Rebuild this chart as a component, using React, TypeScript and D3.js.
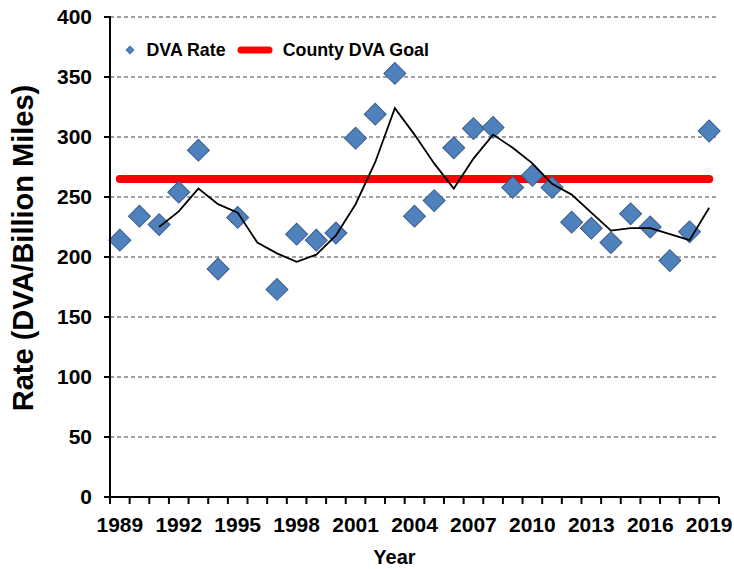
import * as d3 from 'd3'

const years = [
  1989, 1990, 1991, 1992, 1993, 1994, 1995, 1996, 1997, 1998, 1999,
  2000, 2001, 2002, 2003, 2004, 2005, 2006, 2007, 2008, 2009,
  2010, 2011, 2012, 2013, 2014, 2015, 2016, 2017, 2018, 2019,
]

// DVA rate per year (1996 has no point in the chart)
const dvaRate = [
  214, 234, 227, 254, 289, 190, 233, null, 173, 219, 214,
  220, 299, 319, 353, 234, 247, 291, 307, 308, 258,
  268, 258, 229, 224, 212, 236, 225, 197, 221, 305,
]

// 3-year moving average trendline
const trend = [
  null, null, 225, 238, 257, 244, 237, 212, 203, 196, 202,
  218, 244, 279, 324, 302, 278, 257, 282, 302, 291,
  278, 261, 252, 237, 222, 224, 224, 219, 214, 241,
]

const countyGoal = 265

const yTicks = [0, 50, 100, 150, 200, 250, 300, 350, 400]
const xLabelYears = [1989, 1992, 1995, 1998, 2001, 2004, 2007, 2010, 2013, 2016, 2019]

const FONT = '"Liberation Sans", Arial, sans-serif'

const App = () => {
  const W = 734
  const H = 569
  const left = 110
  const right = 719
  const top = 17
  const bottom = 497

  const x = d3.scaleBand<number>().domain(years).range([left, right]).padding(0)
  const cx = (yr: number) => (x(yr) ?? 0) + x.bandwidth() / 2
  const y = d3.scaleLinear().domain([0, 400]).range([bottom, top])

  const diamond = d3.symbol().type(d3.symbolSquare).size(240)()
  const legendDiamond = d3.symbol().type(d3.symbolSquare).size(34)()

  const trendLine = d3
    .line<number | null>()
    .defined((d) => d != null)
    .x((_, i) => cx(years[i]))
    .y((d) => y(d as number))(trend)

  const boundaries = years.map((yr) => x(yr) as number).concat([right])

  return (
    <svg
      width={W}
      height={H}
      style={{ position: 'absolute', left: 0, top: 0, background: '#fff' }}
      fontFamily={FONT}
      fontWeight="bold"
    >
      {/* gridlines */}
      {yTicks.filter((t) => t > 0).map((t) => (
        <line
          key={'g' + t}
          x1={left}
          x2={right}
          y1={y(t)}
          y2={y(t)}
          stroke="#404040"
          strokeWidth={1}
          strokeDasharray="4,3"
        />
      ))}

      {/* goal line */}
      <line
        x1={cx(years[0])}
        x2={cx(years[years.length - 1])}
        y1={y(countyGoal)}
        y2={y(countyGoal)}
        stroke="#ff0000"
        strokeWidth={8}
        strokeLinecap="round"
      />

      {/* points */}
      {dvaRate.map((v, i) =>
        v == null ? null : (
          <path
            key={'p' + i}
            d={diamond as string}
            transform={`translate(${cx(years[i])},${y(v)}) rotate(45)`}
            fill="#4F81BD"
            stroke="#385D8A"
            strokeWidth={1}
          />
        )
      )}

      {/* trendline */}
      <path d={trendLine as string} fill="none" stroke="#000" strokeWidth={1.8} />

      {/* axes */}
      <line x1={left} x2={left} y1={top - 1} y2={bottom + 1} stroke="#000" strokeWidth={2} />
      <line x1={left - 1} x2={right} y1={bottom} y2={bottom} stroke="#000" strokeWidth={2} />
      {yTicks.map((t) => (
        <g key={'yt' + t}>
          <line x1={left - 6} x2={left} y1={y(t)} y2={y(t)} stroke="#000" strokeWidth={2} />
          <text x={92} y={y(t)} dy="0.35em" textAnchor="end" fontSize={21} fill="#000">
            {t}
          </text>
        </g>
      ))}
      {boundaries.map((bx, i) => (
        <line key={'xt' + i} x1={bx} x2={bx} y1={bottom} y2={bottom + 7} stroke="#000" strokeWidth={2} />
      ))}
      {xLabelYears.map((yr) => (
        <text key={'xl' + yr} x={cx(yr)} y={531.5} textAnchor="middle" fontSize={21} fill="#000">
          {yr}
        </text>
      ))}

      {/* axis titles */}
      <text x={394.5} y={564} textAnchor="middle" fontSize={20} fill="#000">
        Year
      </text>
      <text
        transform="translate(33,248) rotate(-90)"
        textAnchor="middle"
        fontSize={29}
        fill="#000"
      >
        Rate (DVA/Billion Miles)
      </text>

      {/* legend */}
      <path
        d={legendDiamond as string}
        transform="translate(130,50) rotate(45)"
        fill="#4F81BD"
        stroke="#385D8A"
        strokeWidth={0.8}
      />
      <text x={146.5} y={50} dy="0.35em" fontSize={17.8} fill="#000">
        DVA Rate
      </text>
      <line x1={241} x2={269} y1={50} y2={50} stroke="#ff0000" strokeWidth={7} strokeLinecap="round" />
      <text x={282.7} y={50} dy="0.35em" fontSize={17.8} fill="#000">
        County DVA Goal
      </text>
    </svg>
  )
}

export default App
